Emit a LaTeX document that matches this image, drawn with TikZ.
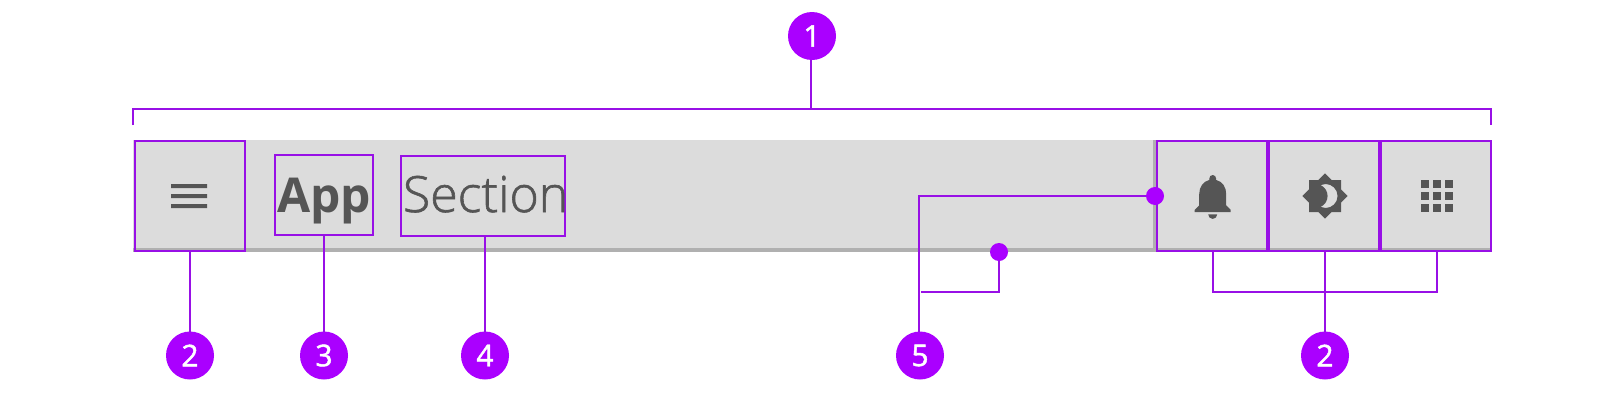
\documentclass[tikz,border=0pt]{standalone}
\usepackage{fontspec}
\setmainfont{Open Sans}
\newfontfamily\lightfont{Open Sans Light}[FakeBold=1.2]
\newfontfamily\badgefont{Open Sans}[FakeBold=1.5]
\usetikzlibrary{svg.path}
\definecolor{hl}{HTML}{9810E6}
\definecolor{dotc}{HTML}{AA00FF}
\definecolor{barc}{HTML}{DCDCDC}
\definecolor{shadowc}{HTML}{B0B0B0}
\definecolor{inkc}{HTML}{555555}
\tikzset{
  hlbox/.style={draw=hl,line width=2pt,inner sep=0,outer sep=0,minimum width=110pt,minimum height=110pt},
  leader/.style={draw=hl,line width=2pt},
  badge/.style={circle,fill=dotc,inner sep=0,outer sep=0,minimum size=48pt,text=white,font=\badgefont\fontsize{30}{32}\selectfont},
  pin/.style={circle,fill=dotc,inner sep=0,outer sep=0,minimum size=18pt},
  bartext/.style={inner sep=0,outer sep=0,anchor=base west,text=inkc},
  icon/.style={fill=inkc,draw=none,even odd rule}
}
\begin{document}
\begin{tikzpicture}[x=1pt,y=-1pt]
\path[use as bounding box,fill=white] (0,0) rectangle (1624,402);
% bar
\node[fill=barc,inner sep=0,outer sep=0,minimum width=1358pt,minimum height=112pt] (bar) at (812,196) {};
\fill[shadowc] (133,248) rectangle (1491,252);
\fill[shadowc] (1153,140) rectangle (1157,252);
% highlighted boxes
\node[hlbox] (menu) at (190,196) {};
\node[hlbox,minimum width=98pt,minimum height=80pt] (appbox) at (324,195) {};
\node[hlbox,minimum width=164pt,minimum height=80pt] (secbox) at (483,196) {};
\node[hlbox] (bell) at (1212,196) {};
\node[hlbox] (sun) at (1324,196) {};
\node[hlbox] (grid) at (1436,196) {};
% texts
\node[bartext,font=\fontsize{48}{50}\selectfont\bfseries] (apptext) at (277,212) {App};
\node[bartext,font=\fontsize{50}{52}\selectfont\lightfont] (sectext) at (403,212) {Section};
% icons
\fill[inkc] (171,184) rectangle (207,188) (171,194) rectangle (207,198) (171,204) rectangle (207,208);
\begin{scope}[shift={(1185.7,169.4)},xscale=2.25,yscale=-2.25]
\fill[icon] svg {M12 22 c1.1 0 2 -0.9 2 -2 h-4 c0 1.1 0.9 2 2 2 z m6 -6 v-5 c0 -3.07 -1.63 -5.64 -4.5 -6.32 V4 c0 -0.83 -0.67 -1.5 -1.5 -1.5 s-1.5 0.67 -1.5 1.5 v0.68 C7.64 5.36 6 7.92 6 11 v5 l-2 2 v1 h16 v-1 l-2 -2 z};
\end{scope}
\begin{scope}[shift={(1301,172)},xscale=2,yscale=-2]
\fill[icon] svg {M20 8.69 V4 h-4.69 L12 0.69 L8.69 4 H4 v4.69 L0.69 12 L4 15.31 V20 h4.69 L12 23.31 L15.31 20 H20 v-4.69 L23.31 12 L20 8.69 z M12.29 18 c-0.89 0 -1.74 -0.2 -2.5 -0.55 C11.85 16.5 13.29 14.42 13.29 12 s-1.44 -4.5 -3.5 -5.45 C10.55 6.2 11.4 6 12.29 6 c3.31 0 6 2.69 6 6 s-2.69 6 -6 6 z};
\end{scope}
\foreach \cx in {1421,1433,1445} \foreach \cy in {180,192,204}
  \fill[inkc] (\cx,\cy) rectangle ++(8,8);
% badges
\node[badge] (n1) at (812,36) {1};
\node[badge] (n2a) at (190,355.5) {2};
\node[badge] (n3) at (324,355.5) {3};
\node[badge] (n4) at (485,355.5) {4};
\node[badge] (n5) at (920,355.5) {5};
\node[badge] (n2b) at (1325,355.5) {2};
% connectors
\coordinate (brLb) at (133,125);
\coordinate (brLt) at (133,109);
\coordinate (brRt) at (1491,109);
\coordinate (brRb) at (1491,125);
\coordinate (brM) at (811,109);
\draw[leader] (brLb) -- (brLt) -- (brRt) -- (brRb);
\draw[leader] (brM |- n1.south) -- (brM);
\draw[leader] (menu.south) -- (n2a);
\draw[leader] (appbox.south) -- (n3);
\draw[leader] (secbox.south -| n4) -- (n4);
\coordinate (gl) at (1212.5,292);
\coordinate (gr) at (1436.5,292);
\coordinate (gm) at (1324.5,292);
\draw[leader] (gl |- bell.south) -- (gl) -- (gr) -- (gr |- grid.south);
\draw[leader] (gm |- sun.south) -- (gm |- n2b.north);
\node[pin] (pinbell) at (1155,196) {};
\node[pin] (pinbar) at (999,252) {};
\coordinate (k5) at (919,196);
\coordinate (e5) at (921,292);
\coordinate (k5b) at (999,292);
\draw[leader] (pinbell) -- (k5) -- (k5 |- n5.north);
\draw[leader] (pinbar) -- (k5b) -- (e5);
\end{tikzpicture}
\end{document}
